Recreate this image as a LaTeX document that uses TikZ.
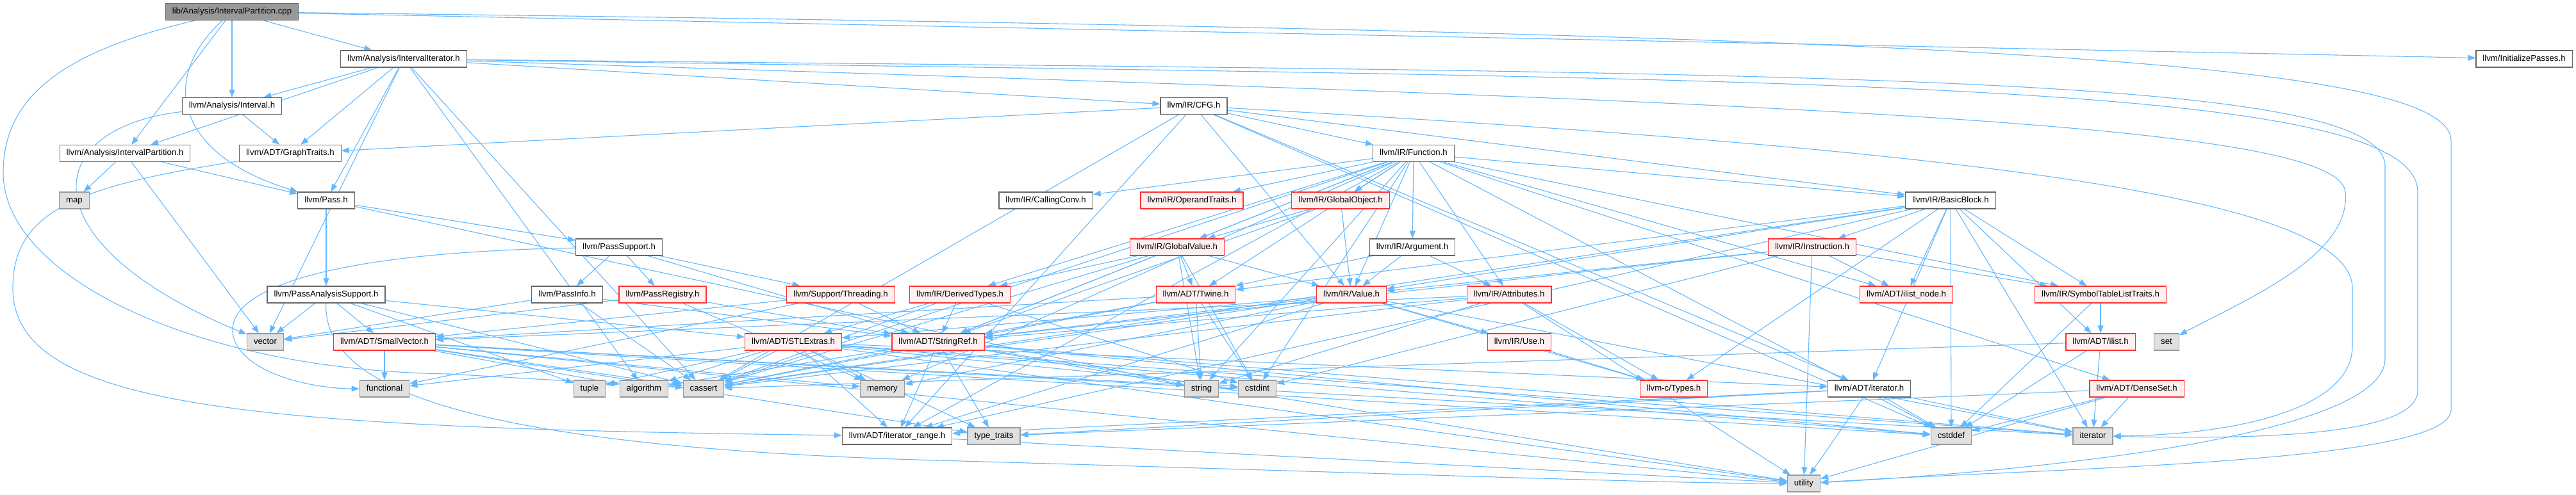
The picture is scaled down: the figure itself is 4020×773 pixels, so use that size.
\documentclass[tikz,border=0pt]{standalone}
\usepackage{fontspec}
\setmainfont{Liberation Sans}
\usetikzlibrary{arrows.meta}
\definecolor{depblue}{HTML}{63B8FF}
\definecolor{framegray}{HTML}{666666}
\definecolor{rootgray}{HTML}{999999}
\definecolor{sysgray}{HTML}{E0E0E0}
\definecolor{sysframe}{HTML}{999999}
\definecolor{truncred}{HTML}{FF3030}
\definecolor{truncpink}{HTML}{FFF0F0}
\pgfdeclarelayer{edges}
\pgfsetlayers{edges,main}

\begin{document}
\begin{tikzpicture}[
    x=1pt, y=-1pt,
    hdr/.style={draw=framegray, fill=white, line width=1.2pt, minimum height=26pt,
                inner xsep=10.5pt, inner ysep=0pt, text height=9.6pt, text depth=2.8pt,
                font=\fontsize{13.2}{15}\selectfont},
    rootfile/.style={hdr, fill=rootgray},
    truncfile/.style={hdr, draw=truncred, fill=truncpink},
    sysfile/.style={hdr, draw=sysframe, fill=sysgray},
    dep/.style={-{Triangle[length=12pt,width=9pt]}, depblue, line width=1.1pt}
]
\useasboundingbox (0,0) rectangle (4020,773);

% source file
\node[rootfile] (root) at (362,18.5) {lib/Analysis/IntervalPartition.cpp};

% rank 1-3
\node[hdr] (initp) at (3939,92) {llvm/InitializePasses.h};
\node[hdr] (iiter) at (630,92) {llvm/Analysis/IntervalIterator.h};
\node[hdr] (interval) at (362,165.5) {llvm/Analysis/Interval.h};
\node[hdr] (cfg) at (1863,165.5) {llvm/IR/CFG.h};
\node[hdr] (ipart) at (195,239.5) {llvm/Analysis/IntervalPartition.h};
\node[hdr] (gtraits) at (453,239.5) {llvm/ADT/GraphTraits.h};
\node[hdr] (func) at (2206,239.5) {llvm/IR/Function.h};

% rank 4-5
\node[sysfile] (map) at (116,313) {map};
\node[hdr] (pass) at (509,313) {llvm/Pass.h};
\node[hdr] (callconv) at (1632,313) {llvm/IR/CallingConv.h};
\node[truncfile] (opertr) at (1860,313) {llvm/IR/OperandTraits.h};
\node[truncfile] (gobj) at (2092,313) {llvm/IR/GlobalObject.h};
\node[hdr] (bblock) at (3044,313) {llvm/IR/BasicBlock.h};
\node[hdr] (psupport) at (966,386) {llvm/PassSupport.h};
\node[truncfile] (gvalue) at (1837,386) {llvm/IR/GlobalValue.h};
\node[hdr] (arg) at (2204,386) {llvm/IR/Argument.h};
\node[truncfile] (instr) at (2828,386) {llvm/IR/Instruction.h};

% rank 6
\node[hdr] (pasupport) at (509,460) {llvm/PassAnalysisSupport.h};
\node[hdr] (pinfo) at (885,460) {llvm/PassInfo.h};
\node[truncfile] (preg) at (1034,460) {llvm/PassRegistry.h};
\node[truncfile] (thread) at (1312,460) {llvm/Support/Threading.h};
\node[truncfile] (dtypes) at (1498,460) {llvm/IR/DerivedTypes.h};
\node[truncfile] (twine) at (1866,460) {llvm/ADT/Twine.h};
\node[truncfile] (value) at (2109,460) {llvm/IR/Value.h};
\node[truncfile] (attrs) at (2355,460) {llvm/IR/Attributes.h};
\node[truncfile] (ilnode) at (2975,460) {llvm/ADT/ilist\_node.h};
\node[truncfile] (symtab) at (3278,460) {llvm/IR/SymbolTableListTraits.h};

% rank 7
\node[sysfile] (vector) at (414,534) {vector};
\node[truncfile] (smallvec) at (600,534) {llvm/ADT/SmallVector.h};
\node[truncfile] (stlext) at (1238,534) {llvm/ADT/STLExtras.h};
\node[truncfile] (strref) at (1464,534) {llvm/ADT/StringRef.h};
\node[truncfile] (use) at (2371,534) {llvm/IR/Use.h};
\node[truncfile] (ilist) at (3278,534) {llvm/ADT/ilist.h};
\node[sysfile] (set) at (3381,534) {set};

% rank 8
\node[sysfile] (functional) at (600,607) {functional};
\node[sysfile] (tuple) at (920,607) {tuple};
\node[sysfile] (algorithm) at (1005,607) {algorithm};
\node[sysfile] (cassert) at (1098,607) {cassert};
\node[sysfile] (memory) at (1377,607) {memory};
\node[sysfile] (string) at (1875,607) {string};
\node[sysfile] (cstdint) at (1962,607) {cstdint};
\node[truncfile] (ctypes) at (2612,607) {llvm-c/Types.h};
\node[hdr] (iterh) at (2917,607) {llvm/ADT/iterator.h};
\node[truncfile] (denseset) at (3334.5,607) {llvm/ADT/DenseSet.h};

% rank 9-10
\node[hdr] (itrange) at (1400,681) {llvm/ADT/iterator\_range.h};
\node[sysfile] (typetraits) at (1551,681) {type\_traits};
\node[sysfile] (cstddef) at (3045,681) {cstddef};
\node[sysfile] (iterator) at (3266,681) {iterator};
\node[sysfile] (utility) at (2815,755) {utility};

% include edges
\begin{pgfonlayer}{edges}
% long edges routed round the left and right margins
\draw[dep] (root) .. controls (100,80) and (5,150) .. (5,270) .. controls (5,430) and (300,578) .. (700,584) -- (cassert);
\draw[dep] (root) .. controls (250,120) and (270,240) .. (pass);
\draw[dep] (root) .. controls (3000,50) and (3825,90) .. (3825,220) -- (3825,640)
    .. controls (3825,725) and (3200,730) .. (utility);
\draw[dep] (iiter) .. controls (2800,115) and (3722,110) .. (3722,260) -- (3722,560)
    .. controls (3722,690) and (3100,740) .. (utility);
\draw[dep] (iiter) .. controls (2800,125) and (3773,120) .. (3773,300) -- (3773,610)
    .. controls (3773,690) and (3450,684) .. (iterator);
\draw[dep] (iiter) .. controls (2800,160) and (3650,190) .. (3660,300) .. controls (3670,400) and (3500,470) .. (set);
\draw[dep] (cfg) .. controls (3000,230) and (3671,300) .. (3671,450) -- (3671,540)
    .. controls (3671,650) and (3450,680) .. (iterator);
\draw[dep] (interval) .. controls (60,200) and (40,380) .. (vector);
\draw[dep] (gtraits) .. controls (120,290) and (20,330) .. (20,450) .. controls (20,640) and (400,668) .. (itrange);
\draw[dep] (psupport) .. controls (450,395) and (330,470) .. (370,540) .. controls (400,590) and (500,607) .. (functional);
\draw[dep] (pasupport) .. controls (505,600) and (700,700) .. (1500,720) .. controls (2200,740) and (2600,755) .. (utility);

% remaining edges
\foreach \from/\to in {root/ipart, root/interval, root/iiter, root/initp,
    iiter/gtraits, iiter/interval, iiter/ipart, iiter/cfg, iiter/pass, iiter/algorithm, iiter/cassert,
    iiter/vector,
    interval/gtraits,
    ipart/map, ipart/pass, ipart/vector,
    cfg/gtraits, cfg/iterh, cfg/itrange, cfg/bblock, cfg/func, cfg/value, cfg/cassert, cfg/cstddef,
    pass/pasupport, pass/psupport, pass/string}
    \draw[dep] (\from) -- (\to);
\foreach \from/\to in {func/denseset, func/strref, func/twine, func/ilnode, func/itrange, func/arg, func/attrs,
    func/bblock, func/callconv, func/dtypes, func/gobj, func/gvalue, func/opertr, func/symtab, func/value,
    func/cassert, func/cstddef, func/cstdint, func/memory, func/string,
    bblock/twine, bblock/ilist, bblock/ilnode, bblock/iterh, bblock/itrange, bblock/instr, bblock/symtab,
    bblock/value, bblock/ctypes, bblock/cassert, bblock/cstddef, bblock/iterator}
    \draw[dep] (\from) -- (\to);
\foreach \from/\to in {psupport/strref, psupport/pinfo, psupport/preg, psupport/thread,
    gvalue/twine, gvalue/strref, gvalue/dtypes, gvalue/value, gvalue/cassert, gvalue/cstdint, gvalue/string,
    gobj/gvalue, gobj/value, gobj/strref,
    arg/twine, arg/attrs, arg/value,
    instr/strref, instr/ilnode, instr/symtab, instr/value, instr/cstdint, instr/utility,
    pasupport/stlext, pasupport/smallvec, pasupport/cassert, pasupport/tuple, pasupport/vector,
    pinfo/strref, pinfo/cassert, pinfo/vector,
    preg/strref, preg/memory, preg/vector,
    thread/strref, thread/smallvec, thread/functional,
    dtypes/stlext, dtypes/strref, dtypes/cassert, dtypes/cstdint,
    twine/smallvec, twine/strref, twine/cassert, twine/cstdint, twine/string}
    \draw[dep] (\from) -- (\to);
\foreach \from/\to in {value/stlext, value/strref, value/itrange, value/use, value/ctypes, value/cassert,
    value/iterator, value/memory,
    attrs/smallvec, attrs/strref, attrs/ctypes, attrs/cassert, attrs/string, attrs/utility,
    use/ctypes, symtab/ilist, symtab/cstddef,
    ilist/cassert, ilist/cstddef, ilist/iterator,
    iterh/itrange, iterh/cstddef, iterh/iterator, iterh/typetraits, iterh/utility,
    denseset/typetraits, denseset/cstddef, denseset/iterator, denseset/utility,
    itrange/utility,
    strref/itrange, strref/typetraits, strref/algorithm, strref/cassert, strref/cstddef, strref/iterator,
    strref/string, strref/utility}
    \draw[dep] (\from) -- (\to);
\foreach \from/\to in {stlext/iterh, stlext/itrange, stlext/algorithm, stlext/cassert, stlext/cstddef,
    stlext/cstdint, stlext/functional, stlext/iterator, stlext/memory, stlext/tuple, stlext/typetraits,
    stlext/utility,
    smallvec/algorithm, smallvec/cassert, smallvec/cstddef, smallvec/cstdint, smallvec/functional,
    smallvec/iterator, smallvec/memory, smallvec/typetraits, smallvec/utility}
    \draw[dep] (\from) -- (\to);
\end{pgfonlayer}

\end{tikzpicture}
\end{document}
